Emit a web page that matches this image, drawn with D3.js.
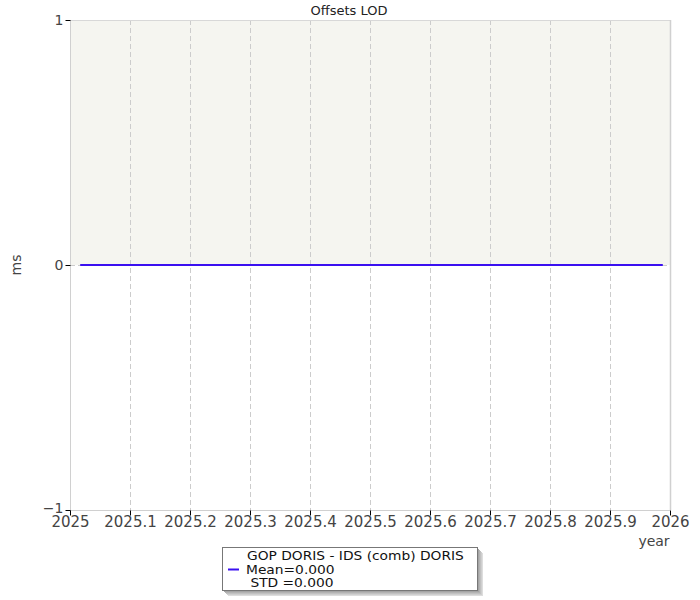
<!DOCTYPE html>
<html><head><meta charset="utf-8">
<script src="https://cdn.jsdelivr.net/npm/d3@7"></script>
<style>body{margin:0;background:#fff;} text{font-family:"DejaVu Sans",Verdana,sans-serif;}</style>
</head><body><svg id="c" width="700" height="600"></svg>
<script>
const title = "Offsets LOD";
const yLabel = "ms";
const xLabel = "year";
const xTicks = [2025, 2025.1, 2025.2, 2025.3, 2025.4, 2025.5, 2025.6, 2025.7, 2025.8, 2025.9, 2026];
const yTicks = [-1, 0, 1];
const seriesYears = [2025.017, 2025.25, 2025.5, 2025.75, 2025.988];
const seriesValues = [0, 0, 0, 0, 0];
const legendLines = ["GOP DORIS - IDS (comb) DORIS", "Mean=0.000", " STD =0.000"];
const seriesColor = "#3a10f0";

const svg = d3.select("#c");
const L = 70, R = 670, T = 20, B = 510;
const x = d3.scaleLinear().domain([2025, 2026]).range([L, R]);
const y = d3.scaleLinear().domain([-1, 1]).range([B, T]);

// upper band background
svg.append("rect").attr("x", L).attr("y", y(1)).attr("width", R - L).attr("height", y(0) - y(1)).attr("fill", "#f5f5f0");

// vertical dashed grid
svg.append("g").selectAll("line").data(xTicks.slice(1, -1)).join("line")
  .attr("x1", d => Math.round(x(d)) + 0.5).attr("x2", d => Math.round(x(d)) + 0.5)
  .attr("y1", T).attr("y2", B).attr("stroke", "#cccccc").attr("stroke-dasharray", "5,3");
// horizontal zero grid
svg.append("line").attr("x1", L).attr("x2", R).attr("y1", Math.round(y(0)) + 0.5).attr("y2", Math.round(y(0)) + 0.5)
  .attr("stroke", "#cccccc").attr("stroke-dasharray", "5,3");

// frame
svg.append("line").attr("x1", L).attr("x2", R).attr("y1", T + 0.5).attr("y2", T + 0.5).attr("stroke", "#d8d8d8");
svg.append("line").attr("x1", R + 0.5).attr("x2", R + 0.5).attr("y1", T).attr("y2", B).attr("stroke", "#d0d0d0").attr("stroke-width", 1.5);
svg.append("line").attr("x1", L + 0.5).attr("x2", L + 0.5).attr("y1", T).attr("y2", B).attr("stroke", "#d0d0d0");
svg.append("line").attr("x1", L).attr("x2", R).attr("y1", B + 0.5).attr("y2", B + 0.5).attr("stroke", "#d0d0d0");

// series line
svg.append("path").datum(seriesYears.map((d, i) => [d, seriesValues[i]]))
  .attr("d", d3.line().x(d => x(d[0])).y(d => y(d[1])))
  .attr("fill", "none").attr("stroke", seriesColor).attr("stroke-width", 2);

// y axis
const ya = svg.append("g").attr("transform", `translate(${L + 0.5},0)`)
  .call(d3.axisLeft(y).tickValues(yTicks).tickSize(5).tickFormat(d3.format("d")));
ya.select(".domain").remove();
ya.selectAll("line").attr("stroke", "#000");
ya.selectAll("text").attr("font-size", 14).attr("fill", "#444").attr("x", -7)
  .attr("dy", d => d === -1 ? "0.15em" : "0.32em");

// x axis
const xa = svg.append("g").attr("transform", `translate(0,${B + 0.5})`)
  .call(d3.axisBottom(x).tickValues(xTicks).tickSize(5).tickFormat(d => d3.format("")(+d.toFixed(1))));
xa.select(".domain").remove();
xa.selectAll("line").attr("stroke", "#000");
xa.selectAll("text").attr("font-size", 15).attr("fill", "#444").attr("dy", "0.72em").attr("y", 6);

// title & labels
svg.append("text").attr("x", 349).attr("y", 15).attr("text-anchor", "middle").attr("font-size", 13).attr("fill", "#222").text(title);
svg.append("text").attr("transform", "translate(21,265) rotate(-90)").attr("text-anchor", "middle").attr("font-size", 14).attr("fill", "#444").text(yLabel);
svg.append("text").attr("x", 654).attr("y", 546).attr("text-anchor", "middle").attr("font-size", 14).attr("fill", "#444").text(xLabel);

// legend
const lg = svg.append("g").attr("transform", "translate(222,547)");
[6,5,4,3,2,1].forEach(o => {
  lg.append("rect").attr("x", o).attr("y", o).attr("width", 255).attr("height", 43)
    .attr("fill", d3.interpolateRgb("#888", "#ddd")(o / 6));
});
lg.append("rect").attr("x", 0.5).attr("y", 0.5).attr("width", 255).attr("height", 43).attr("fill", "#fff").attr("stroke", "#777");
lg.append("line").attr("x1", 6).attr("x2", 17).attr("y1", 22.5).attr("y2", 22.5).attr("stroke", seriesColor).attr("stroke-width", 2);
lg.selectAll("text.l").data(legendLines).join("text").attr("class", "l")
  .attr("transform", (d, i) => `translate(${i === 0 ? 25 : 24},${13 + i * 13.5}) scale(1.2,1)`)
  .attr("font-size", 11.5).attr("fill", "#111").attr("xml:space", "preserve").style("white-space", "pre").text(d => d);
</script></body></html>
